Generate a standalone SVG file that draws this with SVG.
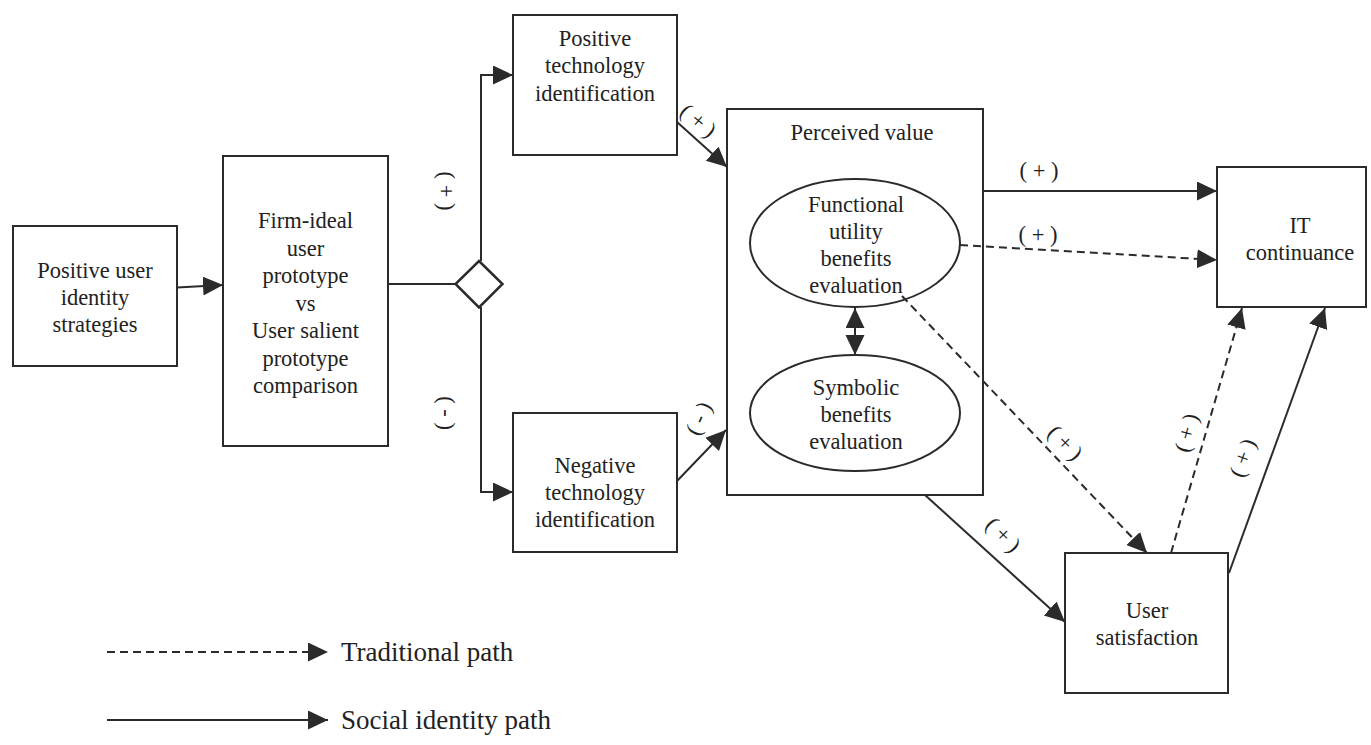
<svg xmlns="http://www.w3.org/2000/svg" width="1371" height="745" viewBox="0 0 1371 745" font-family="Liberation Serif, Times New Roman, serif">
<defs>
<marker id="ah" markerUnits="userSpaceOnUse" markerWidth="21" markerHeight="20" refX="20" refY="9.5" orient="auto-start-reverse">
<path d="M0,0 L20,9.5 L0,19 z" fill="#2b2b2b"/>
</marker>
<style>
.box{fill:#fff;stroke:#2b2b2b;stroke-width:2}
.ell{fill:#fff;stroke:#2b2b2b;stroke-width:2}
.t{font-family:'Liberation Serif','Times New Roman',serif;font-size:22.5px;fill:#222;text-anchor:middle}
.lg{font-family:'Liberation Serif','Times New Roman',serif;font-size:27px;fill:#222}
.ln{fill:none;stroke:#2b2b2b;stroke-width:2}
.dash{stroke-dasharray:8 5}
.arr{marker-end:url(#ah)}
</style>
</defs>
<rect width="1371" height="745" fill="#fff"/>

<g id="n-strategies" font-family="Liberation Serif, serif">
<rect class="box" x="13" y="226" width="164" height="140"/>
<text class="t" x="95" y="278">Positive user</text>
<text class="t" x="95" y="305">identity</text>
<text class="t" x="95" y="332">strategies</text>
</g>

<g id="n-comparison" font-family="Liberation Serif, serif">
<rect class="box" x="223" y="156" width="165" height="290"/>
<text class="t" x="305.5" y="228">Firm-ideal</text>
<text class="t" x="305.5" y="255.5">user</text>
<text class="t" x="305.5" y="283">prototype</text>
<text class="t" x="305.5" y="310.5">vs</text>
<text class="t" x="305.5" y="338">User salient</text>
<text class="t" x="305.5" y="365.5">prototype</text>
<text class="t" x="305.5" y="393">comparison</text>
</g>

<g id="n-positive" font-family="Liberation Serif, serif">
<rect class="box" x="513" y="15" width="164" height="140"/>
<text class="t" x="595" y="46">Positive</text>
<text class="t" x="595" y="73">technology</text>
<text class="t" x="595" y="101">identification</text>
</g>

<g id="n-negative" font-family="Liberation Serif, serif">
<rect class="box" x="513" y="413" width="164" height="139"/>
<text class="t" x="595" y="473">Negative</text>
<text class="t" x="595" y="500">technology</text>
<text class="t" x="595" y="527">identification</text>
</g>

<g id="n-perceived" font-family="Liberation Serif, serif">
<rect x="727" y="109" width="256" height="386" fill="none" stroke="#2b2b2b" stroke-width="2"/>
<text class="t" x="862" y="140">Perceived value</text>
</g>

<g id="n-functional" font-family="Liberation Serif, serif">
<ellipse class="ell" cx="855" cy="243" rx="105" ry="64"/>
<text class="t" x="856" y="212">Functional</text>
<text class="t" x="856" y="239">utility</text>
<text class="t" x="856" y="266">benefits</text>
<text class="t" x="856" y="293">evaluation</text>
</g>

<g id="n-symbolic" font-family="Liberation Serif, serif">
<ellipse class="ell" cx="855" cy="413" rx="105" ry="58"/>
<text class="t" x="856" y="395">Symbolic</text>
<text class="t" x="856" y="422">benefits</text>
<text class="t" x="856" y="449">evaluation</text>
</g>

<g id="n-continuance" font-family="Liberation Serif, serif">
<rect class="box" x="1217" y="167" width="149" height="140"/>
<text class="t" x="1300" y="233">IT</text>
<text class="t" x="1300" y="260">continuance</text>
</g>

<g id="n-satisfaction" font-family="Liberation Serif, serif">
<rect class="box" x="1065" y="553" width="163" height="140"/>
<text class="t" x="1147" y="618">User</text>
<text class="t" x="1147" y="645">satisfaction</text>
</g>

<g id="n-diamond">
<polygon points="479,261 502.5,284 479,307.5 455.5,284" fill="#fff" stroke="#2b2b2b" stroke-width="2.5"/>
</g>

<g id="connectors">
<line class="ln arr" x1="177" y1="287.5" x2="223" y2="285"/>
<line class="ln" x1="388" y1="284" x2="456" y2="284"/>
<polyline class="ln arr" points="481,261 481,75 513,75"/>
<polyline class="ln arr" points="481,307 481,492 513,492"/>
<line class="ln arr" x1="677" y1="122" x2="727" y2="167"/>
<line class="ln arr" x1="677" y1="481" x2="726" y2="430"/>
<line class="ln arr" x1="983" y1="191" x2="1217" y2="191"/>
<line class="ln dash arr" x1="960" y1="245" x2="1217" y2="260"/>
<line class="ln dash arr" x1="902" y1="296" x2="1147" y2="553"/>
<line class="ln arr" x1="925" y1="495" x2="1065" y2="622"/>
<line class="ln dash arr" x1="1171" y1="553" x2="1242" y2="308"/>
<line class="ln arr" x1="1229" y1="573" x2="1325" y2="308"/>
<line class="ln arr" x1="855" y1="308" x2="855" y2="355" style="marker-start:url(#ah)"/>
</g>

<g id="labels" font-family="Liberation Serif, serif">
<text class="t" transform="translate(446,191) rotate(90)" y="7">( + )</text>
<text class="t" transform="translate(446,413) rotate(90)" y="7">( - )</text>
<text class="t" transform="translate(698,121) rotate(40)" y="7">( + )</text>
<text class="t" transform="translate(702,420) rotate(115)" y="7">( - )</text>
<text class="t" x="1039" y="178">( + )</text>
<text class="t" x="1038" y="242">( + )</text>
<text class="t" transform="translate(1065,443) rotate(45)" y="7">( + )</text>
<text class="t" transform="translate(1003,535) rotate(45)" y="7">( + )</text>
<text class="t" transform="translate(1187,433) rotate(-75)" y="7">( + )</text>
<text class="t" transform="translate(1243,458) rotate(-70)" y="7">( + )</text>
</g>

<g id="legend" font-family="Liberation Serif, serif">
<line class="ln dash arr" x1="107" y1="652" x2="328" y2="652"/>
<line class="ln arr" x1="107" y1="720" x2="328" y2="720"/>
<text class="lg" x="341" y="661">Traditional path</text>
<text class="lg" x="341" y="729">Social identity path</text>
</g>
</svg>
